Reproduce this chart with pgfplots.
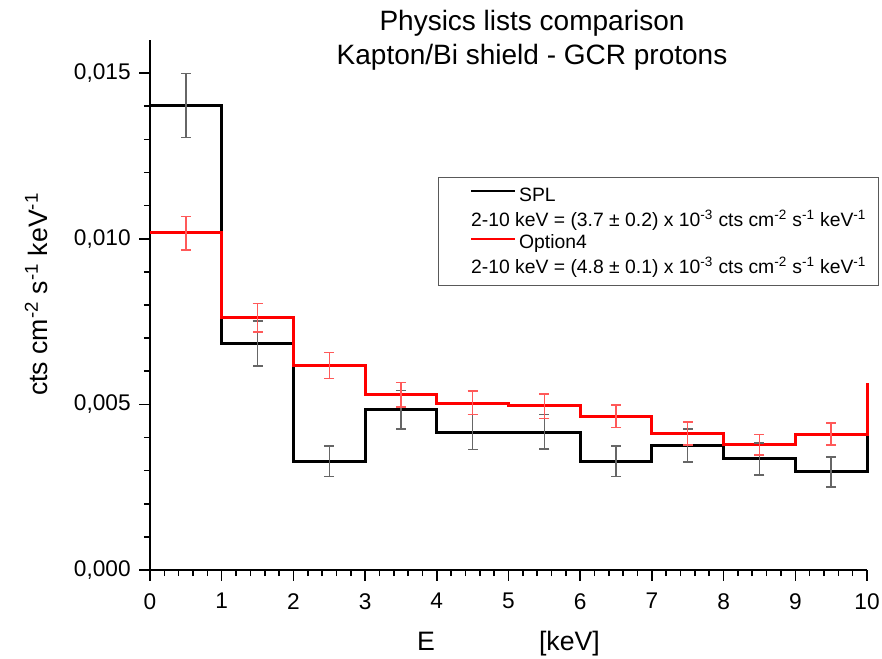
\documentclass[border=0pt]{standalone}
\usepackage{fontspec}
\setmainfont{Liberation Sans}
\usepackage{pgfplots}
\pgfplotsset{compat=1.18}
\usepackage{pgfplotstable}

\pgfplotstableread{
x y
0 0.01401
1 0.00685
2 0.00329
3 0.00484
4 0.00416
5 0.00416
6 0.00328
7 0.00376
8 0.00336
9 0.00296
10 0.00410
}\spl

\pgfplotstableread{
x y
0 0.01019
1 0.00762
2 0.00617
3 0.00529
4 0.00504
5 0.00496
6 0.00463
7 0.00413
8 0.00378
9 0.00410
10 0.00566
}\opt

\pgfplotstableread{
x y e
0.5 0.01402 0.00097
1.5 0.00684 0.00068
2.5 0.00329 0.00046
3.5 0.00484 0.00058
4.5 0.00416 0.00053
5.5 0.00417 0.00052
6.5 0.00329 0.00046
7.5 0.003755 0.00050
8.5 0.003355 0.00048
9.5 0.002955 0.00045
}\splerr

\pgfplotstableread{
x y e
0.5 0.01017 0.000505
1.5 0.007615 0.000435
2.5 0.006175 0.000395
3.5 0.00529 0.00037
4.5 0.005045 0.000355
5.5 0.00494 0.00037
6.5 0.00464 0.00034
7.5 0.004125 0.000345
8.5 0.00378 0.00031
9.5 0.00411 0.00033
}\opterr

\begin{document}
\begin{tikzpicture}
\useasboundingbox (-112.5pt,-66pt) rectangle (549pt,427.5pt);
\begin{axis}[
  at={(0,0)}, anchor=south west,
  scale only axis, width=537.75pt, height=397.5pt,
  xmin=0, xmax=10, ymin=0, ymax=0.016,
  axis x line=bottom, axis y line=left,
  axis line style={-, line width=1.5pt},
  xtick={0,1,...,10}, ytick={0,0.005,0.010,0.015},
  minor x tick num=4, minor y tick num=4,
  tick align=outside,
  major tick length=8pt, minor tick length=4.5pt,
  tick style={black, line width=1.2pt},
  scaled y ticks=false,
  yticklabel style={xshift=-3pt, /pgf/number format/.cd, fixed, fixed zerofill, precision=3, use comma},
  xticklabel style={yshift=-6pt},
  /pgf/number format/assume math mode=true,
  tick label style={font=\fontsize{17}{20}\selectfont},
  clip=false,
  xlabel={E\hspace{78pt}[keV]},
  xlabel style={font=\fontsize{20}{24}\selectfont, at={(rel axis cs:0.5,0)}, anchor=base, yshift=-60.5pt},
  ylabel={cts cm\textsuperscript{-2} s\textsuperscript{-1} keV\textsuperscript{-1}},
  ylabel style={font=\fontsize{20}{24}\selectfont, at={(rel axis cs:-0.1423,0.52)}, anchor=base},
  legend style={at={(rel axis cs:0.4017,0.7415)}, anchor=north west, draw=black!65, line width=0.8pt, fill=white,
    font=\fontsize{14.5}{17}\selectfont, inner xsep=7.5pt, inner ysep=5.5pt, row sep=1pt},
  legend cell align=left,
  legend image code/.code={\path (0pt,0.3em); \draw[#1, line width=1.6pt] (16pt,0.3em) -- (49pt,0.3em);},
]
\addplot[const plot, black, line width=2.25pt] table[x=x, y=y] {\spl};
\addlegendentry{SPL}
\addlegendimage{empty legend}
\addlegendentry{\hspace*{-36pt}2-10 keV = (3.7 ± 0.2) x 10\textsuperscript{-3} cts cm\textsuperscript{-2} s\textsuperscript{-1} keV\textsuperscript{-1}}
\addplot[const plot, red, line width=2.25pt] table[x=x, y=y] {\opt};
\addlegendentry{Option4}
\addlegendimage{empty legend}
\addlegendentry{\hspace*{-36pt}2-10 keV = (4.8 ± 0.1) x 10\textsuperscript{-3} cts cm\textsuperscript{-2} s\textsuperscript{-1} keV\textsuperscript{-1}}

\addplot[draw=none, forget plot, error bars/.cd, y dir=both, y explicit,
  error bar style={line width=1.1pt, draw=black!60},
  error mark options={rotate=90, mark size=3.75pt, line width=1.1pt, draw=black!60}]
  table[x=x, y=y, y error=e] {\splerr};
\addplot[draw=none, forget plot, error bars/.cd, y dir=both, y explicit,
  error bar style={line width=1.1pt, draw=red!65},
  error mark options={rotate=90, mark size=3.75pt, line width=1.1pt, draw=red!65}]
  table[x=x, y=y, y error=e] {\opterr};

\node[font=\fontsize{21}{25}\selectfont, anchor=base] at (rel axis cs:0.5328,1.017) {Physics lists comparison};
\node[font=\fontsize{21}{25}\selectfont, anchor=base] at (rel axis cs:0.5328,0.9538) {Kapton/Bi shield - GCR protons};
\end{axis}
\end{tikzpicture}
\end{document}
